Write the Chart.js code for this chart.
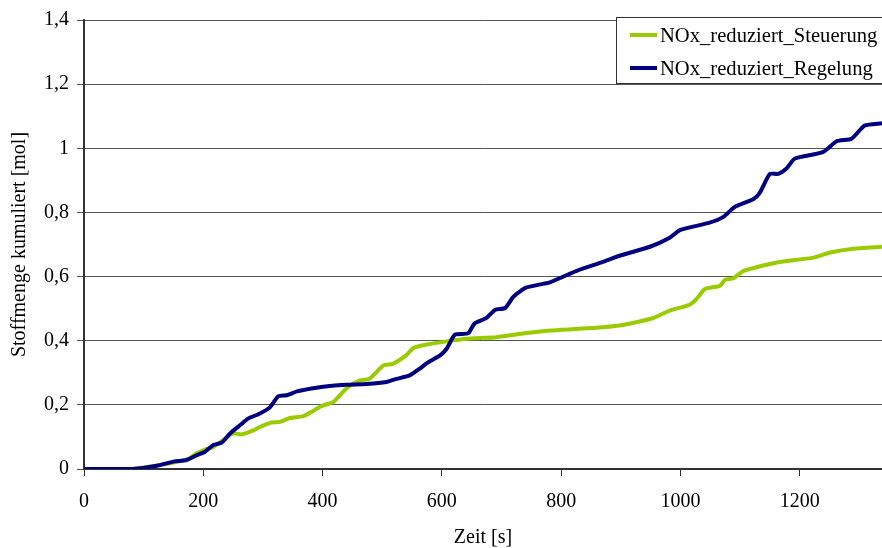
<!DOCTYPE html>
<html>
<head>
<meta charset="utf-8">
<title>NOx reduziert</title>
<script src="https://cdn.jsdelivr.net/npm/chart.js@4/dist/chart.umd.min.js"></script>
<style>
  body { margin: 0; background: #fff; }
  canvas { display: block; }
</style>
</head>
<body>
<canvas id="noxChart" width="882" height="548"></canvas>
<script>
// Zeitpunkte [s] und kumulierte Stoffmenge [mol]
var timeSteuerung = [0, 80, 100, 120, 150, 175, 190, 205, 217, 233, 250, 264, 281, 295, 312, 329, 345, 368, 384, 398, 418, 429, 443, 463, 479, 502, 518, 541, 552, 575, 608, 642, 692, 742, 781, 830, 870, 903, 953, 982, 1015, 1027, 1041, 1066, 1075, 1089, 1106, 1162, 1223, 1251, 1290, 1338];
var valuesSteuerung = [0, 0, 0.005, 0.01, 0.02, 0.032, 0.05, 0.062, 0.069, 0.09, 0.111, 0.108, 0.118, 0.131, 0.144, 0.147, 0.159, 0.165, 0.181, 0.196, 0.209, 0.23, 0.256, 0.276, 0.282, 0.323, 0.328, 0.356, 0.377, 0.388, 0.398, 0.406, 0.411, 0.424, 0.432, 0.437, 0.442, 0.449, 0.47, 0.494, 0.512, 0.53, 0.561, 0.571, 0.59, 0.595, 0.618, 0.644, 0.659, 0.675, 0.687, 0.693];

var timeRegelung = [0, 83, 122, 150, 172, 189, 203, 217, 231, 245, 262, 275, 295, 312, 326, 340, 357, 384, 412, 440, 474, 507, 524, 546, 563, 575, 597, 608, 622, 644, 655, 675, 689, 706, 720, 742, 781, 826, 870, 898, 949, 982, 999, 1049, 1072, 1091, 1122, 1133, 1150, 1164, 1178, 1192, 1239, 1262, 1287, 1309, 1338];
var valuesRegelung = [0, 0, 0.01, 0.023, 0.028, 0.043, 0.054, 0.075, 0.082, 0.111, 0.137, 0.157, 0.173, 0.193, 0.227, 0.23, 0.242, 0.252, 0.259, 0.263, 0.265, 0.271, 0.281, 0.292, 0.313, 0.33, 0.354, 0.375, 0.419, 0.423, 0.454, 0.471, 0.496, 0.502, 0.537, 0.566, 0.582, 0.618, 0.646, 0.665, 0.693, 0.721, 0.745, 0.768, 0.786, 0.817, 0.841, 0.861, 0.92, 0.92, 0.937, 0.968, 0.988, 1.022, 1.03, 1.071, 1.078];

var seriesNames = ['NOx_reduziert_Steuerung', 'NOx_reduziert_Regelung'];
var seriesColors = ['#99CC00', '#000080'];

var xTitle = 'Zeit [s]';
var yTitle = 'Stoffmenge kumuliert [mol]';

var FONT = 'Liberation Serif';

function toPoints(times, values) {
    var pts = [];
    for (var i = 0; i < times.length; i++) {
        pts.push({ x: times[i], y: values[i] });
    }
    return pts;
}

// Legend box in the top right corner, like the spreadsheet original
var boxLegend = {
    id: 'boxLegend',
    afterDraw: function (chart) {
        var c = chart.ctx;
        c.save();
        c.fillStyle = '#fff';
        c.fillRect(616.5, 17.5, 280, 66);
        c.strokeStyle = '#333';
        c.lineWidth = 1;
        c.strokeRect(616.5, 17.5, 280, 66);
        c.font = '20.6px "' + FONT + '"';
        c.textBaseline = 'middle';
        chart.data.datasets.forEach(function (ds, i) {
            var y = 35 + i * 33;
            c.strokeStyle = ds.borderColor;
            c.lineWidth = 4;
            c.beginPath();
            c.moveTo(630, y);
            c.lineTo(657, y);
            c.stroke();
            c.fillStyle = '#000';
            c.fillText(ds.label, 660, y + 1.5);
        });
        c.restore();
    }
};

var ctx = document.getElementById('noxChart').getContext('2d');
var chart = new Chart(ctx, {
    type: 'line',
    data: {
        datasets: [
            {
                label: seriesNames[0],
                data: toPoints(timeSteuerung, valuesSteuerung),
                borderColor: seriesColors[0],
                borderWidth: 4,
                pointRadius: 0,
                tension: 0.2,
                fill: false,
                order: 1
            },
            {
                label: seriesNames[1],
                data: toPoints(timeRegelung, valuesRegelung),
                borderColor: seriesColors[1],
                borderWidth: 4,
                pointRadius: 0,
                tension: 0.2,
                fill: false,
                order: 0
            }
        ]
    },
    options: {
        responsive: false,
        animation: false,
        layout: { padding: { top: 18, right: 0, bottom: 0, left: 0 } },
        scales: {
            x: {
                type: 'linear',
                min: 0,
                max: 1338,
                ticks: {
                    stepSize: 200,
                    color: '#000',
                    padding: 14,
                    maxRotation: 0,
                    font: { family: FONT, size: 20 },
                    callback: function (v) { return String(v); }
                },
                afterBuildTicks: function (scale) {
                    scale.ticks = scale.ticks.filter(function (t) { return t.value % 200 === 0; });
                },
                afterFit: function (scale) { scale.height = 79; },
                grid: { drawOnChartArea: false, drawTicks: true, tickLength: 7, color: '#333', lineWidth: 1 },
                border: { color: '#333', width: 2 },
                title: {
                    display: true,
                    text: xTitle,
                    color: '#000',
                    padding: { top: 0, bottom: 0 },
                    font: { family: FONT, size: 20, lineHeight: 1.0 }
                }
            },
            y: {
                min: 0,
                max: 1.4,
                ticks: {
                    stepSize: 0.2,
                    color: '#000',
                    padding: 8,
                    font: { family: FONT, size: 20 },
                    callback: function (v) {
                        return (Math.round(v * 10) / 10).toString().replace('.', ',');
                    }
                },
                afterFit: function (scale) { scale.width = 84; },
                grid: { color: '#555', lineWidth: 1, tickLength: 7 },
                border: { color: '#333', width: 2 },
                title: {
                    display: true,
                    text: yTitle,
                    color: '#000',
                    padding: { top: 8, bottom: 0 },
                    font: { family: FONT, size: 20 }
                }
            }
        },
        plugins: {
            legend: { display: false },
            tooltip: { enabled: false }
        }
    },
    plugins: [boxLegend]
});
</script>
</body>
</html>
